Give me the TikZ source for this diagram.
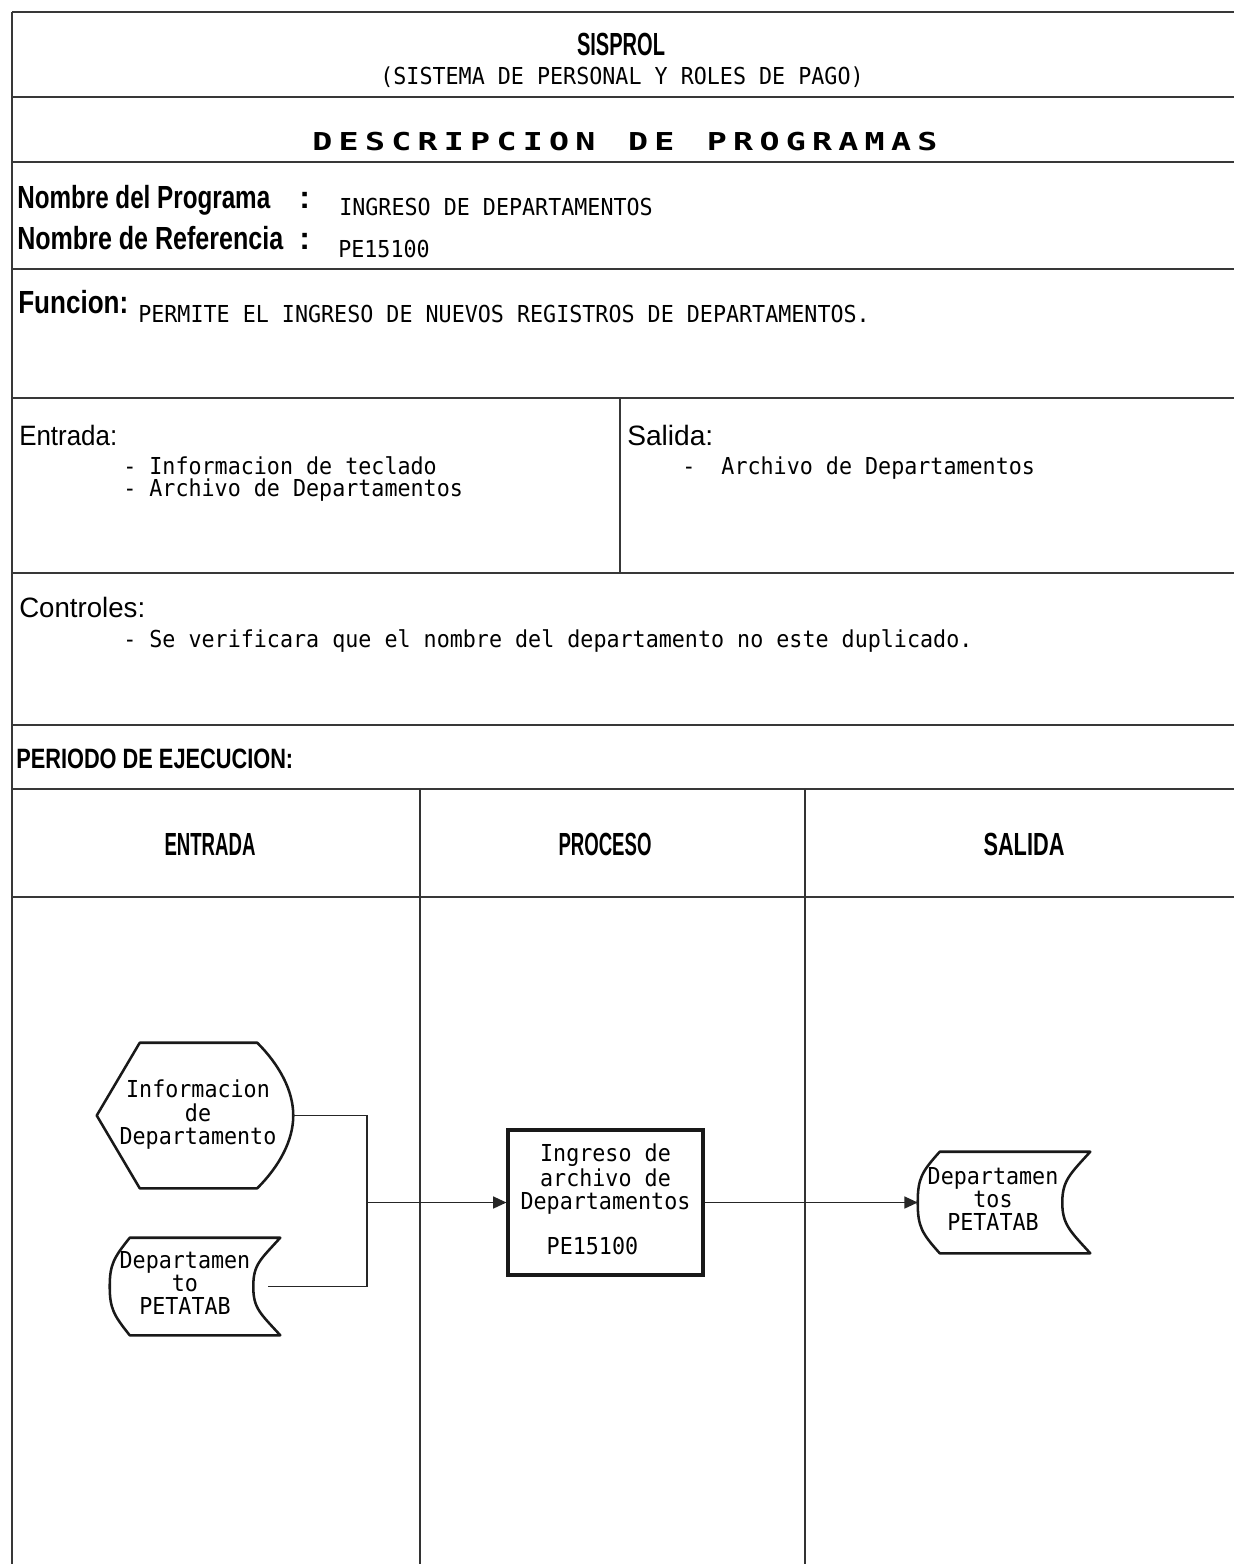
\documentclass[tikz,border=0pt]{standalone}
\usepackage{fontspec}
\usepackage{graphicx}
\setmainfont{Liberation Sans}
\newfontfamily\monof[FakeStretch=0.93]{DejaVu Sans Mono}
\usetikzlibrary{arrows.meta,calc}
\newdimen\pxu \pxu=0.75pt
\newcommand\fitw[2]{\resizebox{#1\pxu}{\height}{#2}}
\newcommand\fs[2]{\fontsize{#1}{#2}\selectfont}
\newcommand\dch[1]{\makebox[26.3\pxu]{\scalebox{1.45}[1]{#1}}}
\begin{document}
\begin{tikzpicture}[x=0.75pt,y=-0.75pt,
  frame/.style={line width=1.6pt, draw=black!78},
  colline/.style={line width=1.1pt, draw=black!80},
  lab/.style={inner sep=0pt, anchor=base west},
  labc/.style={inner sep=0pt, anchor=base},
  mono/.style={font=\monof\fs{17.5pt}{16pt}},
  shp/.style={line width=1.9pt, draw=black!90, line join=round},
  conn/.style={line width=1.1pt, draw=black!85},
  arr/.style={conn, -{Triangle[length=10pt,width=9pt]}},
  procbox/.style={draw=black!90, line width=2.3pt, minimum width=146.25pt, minimum height=108.75pt, inner sep=0pt, mono},
  shapebox/.style={inner sep=0pt, mono}
]
\useasboundingbox (0,0) rectangle (1234,1564);
\fill[white] (0,0) rectangle (1234,1564);

% frame
\foreach \yy in {12,97,162,269,398,573,725,789,897}
  \draw[frame] (12,\yy) -- (1234,\yy);
\draw[frame] (12,12) -- (12,1564);
\draw[frame] (620,398) -- (620,573);
\draw[colline] (420,789) -- (420,1564);
\draw[colline] (805,789) -- (805,1564);

% header
\node[labc] (sisprol) at (621,55) {\bfseries\fs{24pt}{24pt}\fitw{88}{SISPROL}};
\node[labc, mono] (sistema) at (622,84) {(SISTEMA DE PERSONAL Y ROLES DE PAGO)};
\node[lab] (desc) at (309,150) {\monof\bfseries\fs{18.5pt}{18.5pt}\dch{D}\dch{E}\dch{S}\dch{C}\dch{R}\dch{I}\dch{P}\dch{C}\dch{I}\dch{O}\dch{N}\dch{}\dch{D}\dch{E}\dch{}\dch{P}\dch{R}\dch{O}\dch{G}\dch{R}\dch{A}\dch{M}\dch{A}\dch{S}};

% program names
\node[lab] (nprog) at (17,208) {\bfseries\fs{24pt}{24pt}\fitw{253}{Nombre del Programa}};
\node[lab] (c1) at (299,208) {\bfseries\fs{24pt}{24pt}:};
\node[lab, mono] (vprog) at (339,215) {INGRESO DE DEPARTAMENTOS};
\node[lab] (nref) at (17,249) {\bfseries\fs{24pt}{24pt}\fitw{266}{Nombre de Referencia}};
\node[lab] (c2) at (299,249) {\bfseries\fs{24pt}{24pt}:};
\node[lab, mono] (vref) at (338,257) {PE15100};

% funcion
\node[lab] (func) at (18,313) {\bfseries\fs{24pt}{24pt}\fitw{110}{Funcion:}};
\node[lab, mono] (vfunc) at (138,322) {PERMITE EL INGRESO DE NUEVOS REGISTROS DE DEPARTAMENTOS.};

% entrada / salida
\node[lab] (ent) at (19,445) {\fs{21pt}{21pt}\fitw{98}{Entrada:}};
\node[lab, mono] (ent1) at (123,474) {- Informacion de teclado};
\node[lab, mono] (ent2) at (123,496) {- Archivo de Departamentos};
\node[lab] (sal) at (627,445) {\fs{21pt}{21pt}\fitw{86}{Salida:}};
\node[lab, mono] (sal1) at (682,474) {-~~Archivo de Departamentos};

% controles
\node[lab] (ctrl) at (19,617) {\fs{21pt}{21pt}\fitw{126}{Controles:}};
\node[lab, mono] (ctrl1) at (123,647) {- Se verificara que el nombre del departamento no este duplicado.};

% periodo
\node[lab] (per) at (16,768) {\bfseries\fs{21pt}{21pt}\fitw{277}{PERIODO DE EJECUCION:}};
\node[labc] (hent) at (210,855) {\bfseries\fs{24pt}{24pt}\fitw{91}{ENTRADA}};
\node[labc] (hpro) at (605,855) {\bfseries\fs{24pt}{24pt}\fitw{93}{PROCESO}};
\node[labc] (hsal) at (1024,855) {\bfseries\fs{24pt}{24pt}\fitw{81}{SALIDA}};

% diagram nodes
\node[shapebox, minimum width=147pt, minimum height=108.75pt] (info) at (195,1115.5)
  {\begin{tabular}{@{}c@{}}Informacion\\de\\Departamento\end{tabular}\hspace*{-6\pxu}};
\draw[shp] (info.west) -- ($(info.north west)+(43,0)$) -- ($(info.north east)+(-36,0)$)
  .. controls +(22,22) and +(0,-25) .. (info.east)
  .. controls +(0,25) and +(22,-22) .. ($(info.south east)+(-36,0)$)
  -- ($(info.south west)+(43,0)$) -- cycle;

\node[shapebox, minimum width=127.5pt, minimum height=72.75pt] (dep1) at (195,1286.5)
  {\begin{tabular}{@{}c@{}}Departamen\\to\\PETATAB\end{tabular}\hspace*{20\pxu}};
\draw[shp] ($(dep1.north west)+(20,0)$) -- (dep1.north east)
  .. controls +(-20,22) and +(0,-22) .. ($(dep1.east)+(-27,0)$)
  .. controls +(0,22) and +(-20,-22) .. (dep1.south east)
  -- ($(dep1.south west)+(20,0)$)
  .. controls +(-16,-20) and +(0,22) .. (dep1.west)
  .. controls +(0,-22) and +(-16,20) .. ($(dep1.north west)+(20,0)$) -- cycle;
\coordinate (dep1o) at ($(dep1.east)+(-12,0)$);

\node[procbox] (proc) at (605.5,1202.5)
  {\begin{tabular}{@{}c@{}}Ingreso de\\archivo de\\Departamentos\\[16pt]PE15100\hphantom{00}\end{tabular}};

\node[shapebox, minimum width=129pt, minimum height=75.75pt] (dep2) at (1004,1202.5)
  {\begin{tabular}{@{}c@{}}Departamen\\tos\\PETATAB\end{tabular}\hspace*{22\pxu}};
\draw[shp] ($(dep2.north west)+(22,0)$) -- (dep2.north east)
  .. controls +(-20,22) and +(0,-22) .. ($(dep2.east)+(-28,0)$)
  .. controls +(0,22) and +(-20,-22) .. (dep2.south east)
  -- ($(dep2.south west)+(22,0)$)
  .. controls +(-18,-20) and +(0,24) .. (dep2.west)
  .. controls +(0,-24) and +(-18,20) .. ($(dep2.north west)+(22,0)$) -- cycle;

% connectors
\coordinate (jn) at (367,1202.5);
\draw[conn] (info.east) -| (jn);
\draw[conn] (dep1o) -| (jn);
\draw[arr] (jn) -- (proc.west);
\draw[arr] (proc.east) -- (dep2.west);
\end{tikzpicture}
\end{document}
